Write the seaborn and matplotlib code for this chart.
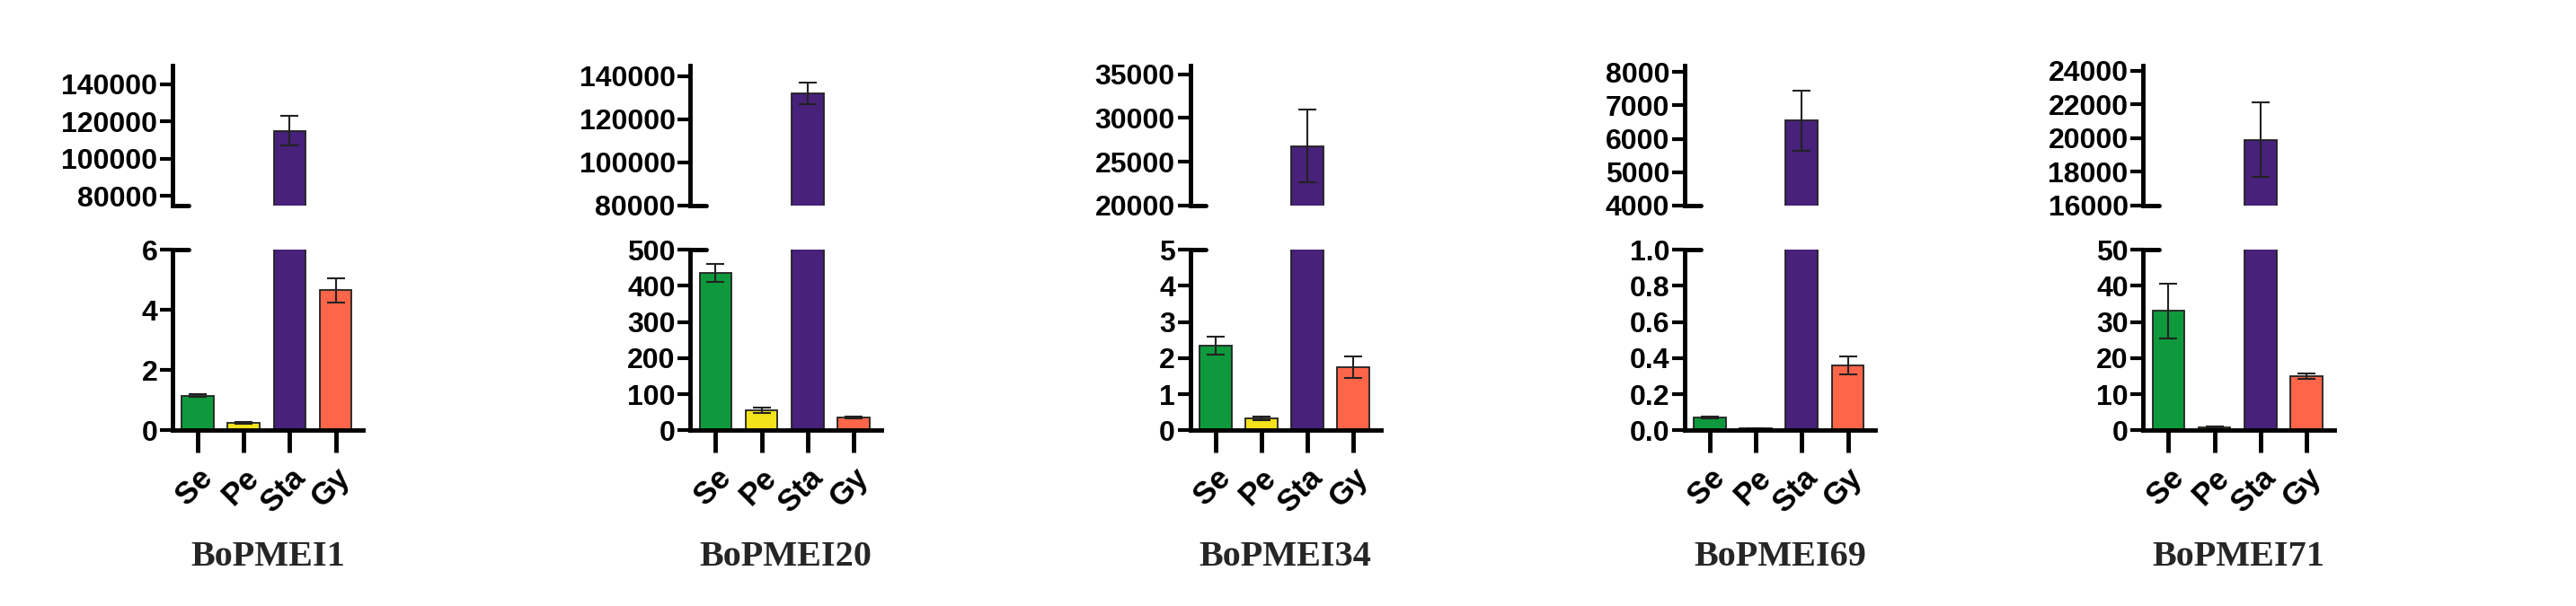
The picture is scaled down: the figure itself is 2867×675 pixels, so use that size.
import numpy as np
import matplotlib.pyplot as plt
import seaborn as sns
import pandas as pd

sns.set_style("white")
plt.rcParams['font.family'] = ['Liberation Sans', 'DejaVu Sans']

tissues = ['Se', 'Pe', 'Sta', 'Gy']
colors = ['#0e9a3c', '#f2e31b', '#47217a', '#ff6549']
genes = ['BoPMEI1', 'BoPMEI20', 'BoPMEI34', 'BoPMEI69', 'BoPMEI71']

means = [
    [1.15, 0.25, 115000, 4.65],
    [435, 55, 132000, 35],
    [2.35, 0.32, 26800, 1.75],
    [0.07, 0.01, 6550, 0.36],
    [33, 0.8, 19900, 15],
]
errs = [
    [0.05, 0.02, 8000, 0.4],
    [25, 8, 5000, 3],
    [0.25, 0.05, 4200, 0.3],
    [0.005, 0.002, 900, 0.05],
    [7.5, 0.2, 2200, 0.7],
]
top_lim = [(75000, 150000), (80000, 145000), (20000, 36000), (4000, 8200), (16000, 24300)]
top_ticks = [[80000, 100000, 120000, 140000], [80000, 100000, 120000, 140000],
             [20000, 25000, 30000, 35000], [4000, 5000, 6000, 7000, 8000],
             [16000, 18000, 20000, 22000, 24000]]
bot_lim = [(0, 6), (0, 500), (0, 5), (0, 1.0), (0, 50)]
bot_ticks = [[0, 2, 4, 6], [0, 100, 200, 300, 400, 500], [0, 1, 2, 3, 4, 5],
             [0.0, 0.2, 0.4, 0.6, 0.8, 1.0], [0, 10, 20, 30, 40, 50]]
bot_fmt = ['{:g}', '{:g}', '{:g}', '{:.1f}', '{:g}']

lefts = [0.067, 0.268, 0.462, 0.654, 0.832]
w = 0.074

fig = plt.figure(figsize=(28.67, 6.75), dpi=100)
for i, g in enumerate(genes):
    df = pd.DataFrame({'tissue': tissues, 'value': means[i]})
    axb = fig.add_axes([lefts[i], 0.29, w, 0.298])
    axt = fig.add_axes([lefts[i], 0.661, w, 0.231])
    for ax in (axt, axb):
        sns.barplot(data=df, x='tissue', y='value', hue='tissue', palette=colors,
                    ax=ax, width=0.7, edgecolor='#222222', linewidth=1.3,
                    legend=False, errorbar=None, saturation=1)
        ax.errorbar(np.arange(4), means[i], yerr=errs[i], fmt='none',
                    ecolor='#222222', elinewidth=1.5, capsize=7, capthick=1.5)
        ax.set_xlim(-0.55, 3.6)
        ax.set_xlabel('')
        ax.set_ylabel('')
        for s in ['top', 'right']:
            ax.spines[s].set_visible(False)
        ax.spines['left'].set_linewidth(3.5)
        ax.spines['left'].set_color('black')
        ax.tick_params(axis='y', left=True, direction='out', length=10, width=3,
                       labelsize=23, pad=2, colors='black')
    axt.set_ylim(*top_lim[i])
    axt.set_yticks(top_ticks[i])
    axt.set_yticklabels([str(t) for t in top_ticks[i]], fontweight='bold')
    axt.spines['bottom'].set_visible(False)
    axt.set_xticks([])
    axt.plot([-0.55, -0.2], [top_lim[i][0]] * 2, color='black', lw=3.5, clip_on=False)
    axb.set_ylim(*bot_lim[i])
    axb.set_yticks(bot_ticks[i])
    axb.set_yticklabels([bot_fmt[i].format(t) for t in bot_ticks[i]], fontweight='bold')
    axb.plot([-0.55, -0.2], [bot_lim[i][1]] * 2, color='black', lw=3.5, clip_on=False)
    axb.spines['bottom'].set_linewidth(3.5)
    axb.spines['bottom'].set_color('black')
    axb.tick_params(axis='x', bottom=True, direction='out', length=18, width=3.5,
                    labelsize=25, pad=8, colors='black')
    axb.set_xticks(range(4))
    axb.set_xticklabels(tissues, rotation=45, ha='right', rotation_mode='anchor',
                        fontweight='bold')
    axb.text(0.5, -0.7, g, transform=axb.transAxes, ha='center', va='center',
             fontsize=29, fontweight='bold', family='Liberation Serif')

fig.savefig('out.png', dpi=100)
